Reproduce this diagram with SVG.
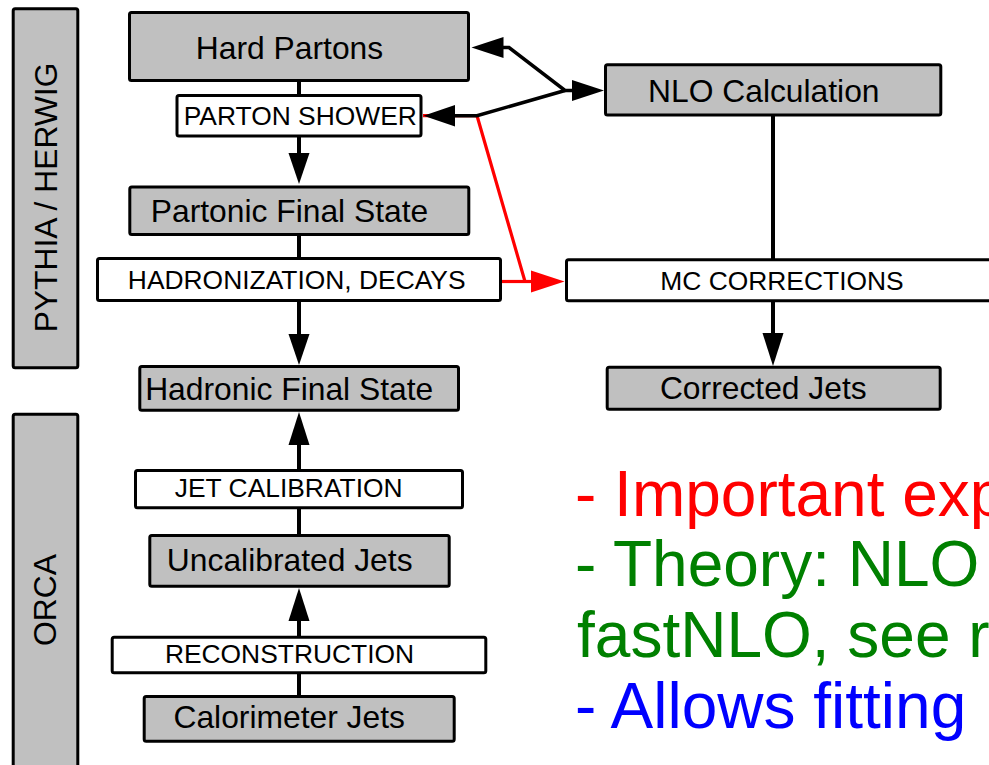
<svg xmlns="http://www.w3.org/2000/svg" width="989" height="765" viewBox="0 0 989 765">
<style>
  .g { fill: #c0c0c0; stroke: #000; stroke-width: 3; }
  .w { fill: #fff; stroke: #000; stroke-width: 3; }
  .big { font-family: "Liberation Sans", Arial, sans-serif; font-size: 31.8px; fill: #000; text-anchor: middle; }
  .cap { font-family: "Liberation Sans", Arial, sans-serif; font-size: 26.4px; fill: #000; text-anchor: middle; }
  .ln { stroke: #000; stroke-width: 4; fill: none; }
  .dl { stroke: #000; stroke-width: 3.5; fill: none; stroke-linejoin: miter; }
  .rl { stroke: #ff0000; stroke-width: 3.2; fill: none; }
  .ah { fill: #000; }
  .rh { fill: #ff0000; }
  .note { font-family: "Liberation Sans", Arial, sans-serif; font-size: 64px; }
</style>
<rect width="989" height="765" fill="#fff"/>

<g id="pythia-herwig">
  <rect class="g" x="13.2" y="8.8" width="64.6" height="359" rx="2"/>
  <text class="big" transform="translate(57,197.5) rotate(-90)">PYTHIA / HERWIG</text>
</g>
<g id="orca">
  <rect class="g" x="13.2" y="414.2" width="64.6" height="400" rx="2"/>
  <text class="big" transform="translate(56,600) rotate(-90)">ORCA</text>
</g>

<g id="connectors">
  <!-- red path -->
  <path class="rl" d="M423,115.7 L477,115.7 L525,281.5"/>
  <path class="rl" d="M502,281.5 L533,281.5"/>
  <polygon class="rh" points="564.5,281.5 531,270.5 531,292.5"/>
  <!-- left chain -->
  <line class="ln" x1="299" y1="81" x2="299" y2="95"/>
  <line class="ln" x1="299" y1="137" x2="299" y2="154"/>
  <polygon class="ah" points="299,184 288.5,153 309.5,153"/>
  <line class="ln" x1="299" y1="235" x2="299" y2="258"/>
  <line class="ln" x1="299" y1="301" x2="299" y2="335"/>
  <polygon class="ah" points="299,365 288.5,334 309.5,334"/>
  <line class="ln" x1="299" y1="470" x2="299" y2="444"/>
  <polygon class="ah" points="299,412 288.5,445 309.5,445"/>
  <line class="ln" x1="299" y1="508" x2="299" y2="535"/>
  <line class="ln" x1="299" y1="637" x2="299" y2="620"/>
  <polygon class="ah" points="299,588 288.5,621 309.5,621"/>
  <line class="ln" x1="299" y1="673" x2="299" y2="696"/>
  <!-- right chain -->
  <line class="ln" x1="773" y1="115" x2="773" y2="260"/>
  <line class="ln" x1="773" y1="301" x2="773" y2="334"/>
  <polygon class="ah" points="773,366 762.5,333 783.5,333"/>
  <!-- NLO connections -->
  <path class="dl" d="M502,47.5 L509,47.5 L565,90.5 L574,90.5"/>
  <polygon class="ah" points="471.5,47.5 503.5,37 503.5,58"/>
  <polygon class="ah" points="604,90.5 572,80 572,101"/>
  <path class="dl" d="M565,90.5 L477,115.7 L454,115.7"/>
  <polygon class="ah" points="423.5,115.7 455,105 455,126.4"/>
</g>

<g id="hard-partons">
  <rect class="g" x="129.5" y="12.5" width="339" height="68" rx="2"/>
  <text class="big" x="289.5" y="59">Hard Partons</text>
</g>
<g id="parton-shower">
  <rect class="w" x="177" y="95.5" width="244" height="40.5" rx="2"/>
  <text class="cap" x="300.3" y="125">PARTON SHOWER</text>
</g>
<g id="partonic-final-state">
  <rect class="g" x="129.8" y="187" width="339" height="47.5" rx="2"/>
  <text class="big" x="289.5" y="221.7">Partonic Final State</text>
</g>
<g id="hadronization">
  <rect class="w" x="97.5" y="258.5" width="403" height="42" rx="2"/>
  <text class="cap" x="296.7" y="289.3">HADRONIZATION, DECAYS</text>
</g>
<g id="hadronic-final-state">
  <rect class="g" x="139.8" y="366.5" width="318.7" height="43.7" rx="2"/>
  <text class="big" x="289.2" y="400">Hadronic Final State</text>
</g>
<g id="jet-calibration">
  <rect class="w" x="135.5" y="470.5" width="327" height="37.3" rx="2"/>
  <text class="cap" x="288.7" y="497.3">JET CALIBRATION</text>
</g>
<g id="uncalibrated-jets">
  <rect class="g" x="149.8" y="535.5" width="299.4" height="50.7" rx="2"/>
  <text class="big" x="289.7" y="571">Uncalibrated Jets</text>
</g>
<g id="reconstruction">
  <rect class="w" x="112.2" y="637.2" width="373.6" height="35.6" rx="2"/>
  <text class="cap" x="289.5" y="663.3">RECONSTRUCTION</text>
</g>
<g id="calorimeter-jets">
  <rect class="g" x="144.2" y="696.5" width="310" height="44.7" rx="2"/>
  <text class="big" x="289.2" y="728.3">Calorimeter Jets</text>
</g>
<g id="nlo-calculation">
  <rect class="g" x="605.5" y="64.8" width="335.3" height="50.2" rx="2"/>
  <text class="big" x="763.8" y="101.7">NLO Calculation</text>
</g>
<g id="mc-corrections">
  <rect class="w" x="566.5" y="259.8" width="440" height="41" rx="2"/>
  <text class="cap" x="782" y="290">MC CORRECTIONS</text>
</g>
<g id="corrected-jets">
  <rect class="g" x="607.2" y="367.2" width="333" height="42" rx="2"/>
  <text class="big" x="763.3" y="399.3">Corrected Jets</text>
</g>

<g id="notes">
  <text class="note" x="575" y="515.7" fill="#ff0000">- Important exp</text>
  <text class="note" x="575" y="586" fill="#008000">- Theory: NLO</text>
  <text class="note" x="577" y="657.3" fill="#008000">fastNLO, see r</text>
  <text class="note" x="575" y="728.3" fill="#0000ff">- Allows fitting</text>
</g>
</svg>
